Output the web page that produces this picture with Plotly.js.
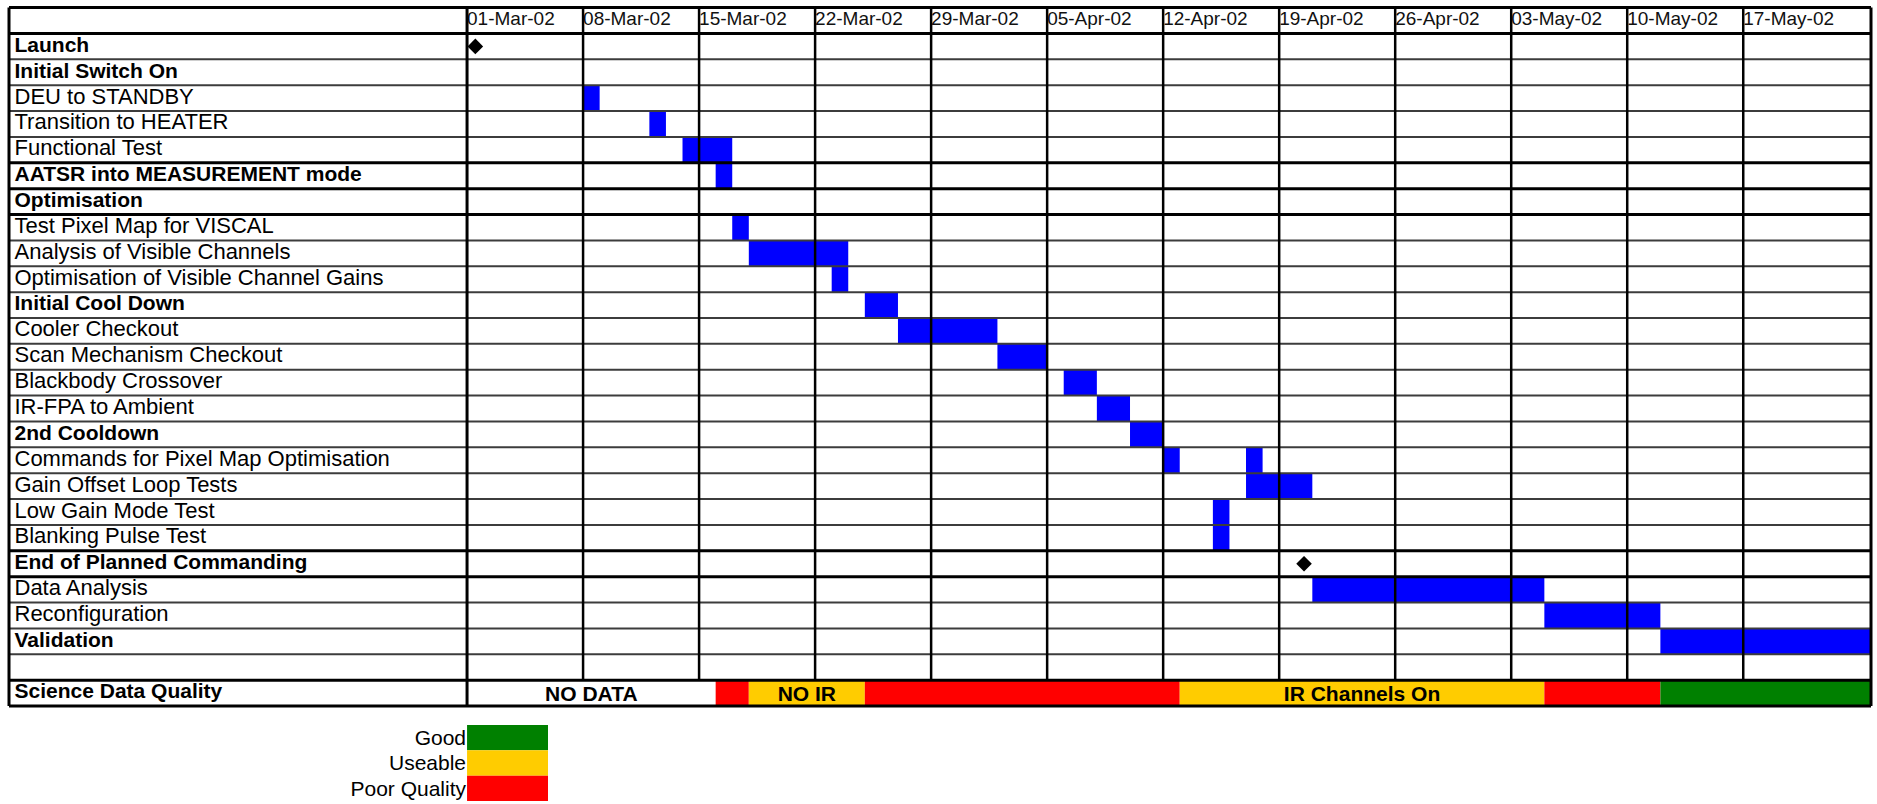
<!DOCTYPE html>
<html><head><meta charset="utf-8">
<script src="https://cdn.plot.ly/plotly-3.0.1.min.js"></script>
<style>html,body{margin:0;padding:0;background:#fff;}#chart{width:1877px;height:804px;}</style>
</head><body><div id="chart"></div>
<script>
// ---------------- data ----------------
const rowLabels = ['Launch','Initial Switch On','DEU to STANDBY','Transition to HEATER','Functional Test',
  'AATSR into MEASUREMENT mode','Optimisation','Test Pixel Map for VISCAL','Analysis of Visible Channels',
  'Optimisation of Visible Channel Gains','Initial Cool Down','Cooler Checkout','Scan Mechanism Checkout',
  'Blackbody Crossover','IR-FPA to Ambient','2nd Cooldown','Commands for Pixel Map Optimisation',
  'Gain Offset Loop Tests','Low Gain Mode Test','Blanking Pulse Test','End of Planned Commanding',
  'Data Analysis','Reconfiguration','Validation','','Science Data Quality'];
const boldLabels = ['Launch','Initial Switch On','AATSR into MEASUREMENT mode','Optimisation','Initial Cool Down',
  '2nd Cooldown','End of Planned Commanding','Validation','Science Data Quality'];

const weekStarts = ['2002-03-01','2002-03-08','2002-03-15','2002-03-22','2002-03-29','2002-04-05',
  '2002-04-12','2002-04-19','2002-04-26','2002-05-03','2002-05-10','2002-05-17'];
const weekLabels = ['01-Mar-02','08-Mar-02','15-Mar-02','22-Mar-02','29-Mar-02','05-Apr-02',
  '12-Apr-02','19-Apr-02','26-Apr-02','03-May-02','10-May-02','17-May-02'];

const barTasks = ['DEU to STANDBY','Transition to HEATER','Functional Test','AATSR into MEASUREMENT mode',
  'Test Pixel Map for VISCAL','Analysis of Visible Channels','Optimisation of Visible Channel Gains',
  'Initial Cool Down','Cooler Checkout','Scan Mechanism Checkout','Blackbody Crossover','IR-FPA to Ambient',
  '2nd Cooldown','Commands for Pixel Map Optimisation','Commands for Pixel Map Optimisation',
  'Gain Offset Loop Tests','Low Gain Mode Test','Blanking Pulse Test','Data Analysis','Reconfiguration','Validation'];
const barStart = ['2002-03-08','2002-03-12','2002-03-14','2002-03-16','2002-03-17','2002-03-18','2002-03-23',
  '2002-03-25','2002-03-27','2002-04-02','2002-04-06','2002-04-08','2002-04-10','2002-04-12','2002-04-17',
  '2002-04-17','2002-04-15','2002-04-15','2002-04-21','2002-05-05','2002-05-12'];
const barEnd = ['2002-03-09','2002-03-13','2002-03-17','2002-03-17','2002-03-18','2002-03-24','2002-03-24',
  '2002-03-27','2002-04-02','2002-04-05','2002-04-08','2002-04-10','2002-04-12','2002-04-13','2002-04-18',
  '2002-04-21','2002-04-16','2002-04-16','2002-05-05','2002-05-12','2002-05-25'];

const milestoneTasks = ['Launch','End of Planned Commanding'];
const milestoneDates = ['2002-03-01 12:00','2002-04-20 12:00'];

const qualityStart = ['2002-03-01','2002-03-16','2002-03-18','2002-03-25','2002-04-13','2002-05-05','2002-05-12'];
const qualityEnd   = ['2002-03-16','2002-03-18','2002-03-25','2002-04-13','2002-05-05','2002-05-12','2002-05-25'];
const qualityLevel = ['No Data','Poor Quality','Useable','Poor Quality','Useable','Poor Quality','Good'];
const qualityText  = ['NO DATA','','NO IR','','IR Channels On','',''];

const legendLabels = ['Good','Useable','Poor Quality'];
const levelColors = {'Good':'#008000','Useable':'#FFCC00','Poor Quality':'#FF0000','No Data':'#FFFFFF'};

// ---------------- build ----------------
const FONT = 'Liberation Sans, Arial, sans-serif';
const rowOf = name => rowLabels.indexOf(name) + 1;
const dur = (a, b) => Date.parse(b) - Date.parse(a);
const LABEL_FRAC = 0.246;
const SCI_ROW = rowLabels.length;          // 26
const LAST_TASK_ROW = SCI_ROW - 1;         // 25

const traces = [];
// row labels (regular and bold)
const regRows = rowLabels.map((l, i) => [l, i + 1]).filter(p => !boldLabels.includes(p[0]));
const boldRows = rowLabels.map((l, i) => [l, i + 1]).filter(p => boldLabels.includes(p[0]));
traces.push({
  type:'scatter', mode:'text', xaxis:'x', yaxis:'y', cliponaxis:false, hoverinfo:'skip',
  x: regRows.map(() => 0.012), y: regRows.map(p => p[1]), text: regRows.map(p => p[0]),
  textposition:'middle right', textfont:{family:FONT, size:22, color:'#000'}
});
traces.push({
  type:'scatter', mode:'text', xaxis:'x', yaxis:'y', cliponaxis:false, hoverinfo:'skip',
  x: boldRows.map(() => 0.012), y: boldRows.map(p => p[1]), text: boldRows.map(p => '<b>' + p[0] + '</b>'),
  textposition:'middle right', textfont:{family:FONT, size:21, color:'#000'}
});
// header week labels
traces.push({
  type:'scatter', mode:'text', xaxis:'x2', yaxis:'y', cliponaxis:false, hoverinfo:'skip',
  x: weekStarts, y: weekStarts.map(() => 0), text: weekLabels,
  textposition:'middle right', textfont:{family:FONT, size:19, color:'#111'}
});
// task bars
traces.push({
  type:'bar', orientation:'h', xaxis:'x2', yaxis:'y', hoverinfo:'skip',
  y: barTasks.map(rowOf), base: barStart, x: barStart.map((s, i) => dur(s, barEnd[i])),
  width: barTasks.map(() => 1), marker:{color:'#0000FF', line:{width:0}}
});
// quality bars
traces.push({
  type:'bar', orientation:'h', xaxis:'x2', yaxis:'y', hoverinfo:'skip',
  y: qualityStart.map(() => SCI_ROW), base: qualityStart, x: qualityStart.map((s, i) => dur(s, qualityEnd[i])),
  width: qualityStart.map(() => 1),
  marker:{color: qualityLevel.map(l => levelColors[l]), line:{width:0}},
  text: qualityText.map(t => t ? '<b>' + t + '</b>' : ''), textposition:'inside', insidetextanchor:'middle',
  constraintext:'none', textangle:0, textfont:{family:FONT, size:21, color:'#000'}
});
// milestones
traces.push({
  type:'scatter', mode:'markers', xaxis:'x2', yaxis:'y', hoverinfo:'skip', cliponaxis:false,
  x: milestoneDates, y: milestoneTasks.map(rowOf),
  marker:{symbol:'diamond', size:12, color:'#000'}
});
// quality legend
traces.push({
  type:'bar', orientation:'h', xaxis:'x3', yaxis:'y2', hoverinfo:'skip',
  y: legendLabels, x: legendLabels.map(() => 1), width: legendLabels.map(() => 1),
  marker:{color: legendLabels.map(l => levelColors[l]), line:{width:0}}
});

// grid lines
const shapes = [];
const thickAfter = [0, 5, 6, 7, 20, 21, 25, 26];
for (let k = 0; k <= SCI_ROW; k++) {
  const thick = thickAfter.includes(k);
  shapes.push({type:'line', xref:'paper', yref:'y', x0:0, x1:1, y0:k + 0.5, y1:k + 0.5,
    line:{color: thick ? '#000' : '#3c3c3c', width: thick ? 3 : 2}});
}
shapes.push({type:'line', xref:'paper', yref:'y', x0:0, x1:1, y0:-0.5, y1:-0.5, line:{color:'#000', width:3}});
weekStarts.slice(1).forEach(d => shapes.push({type:'line', xref:'x2', yref:'y', x0:d, x1:d, y0:-0.5, y1:LAST_TASK_ROW + 0.5,
  line:{color:'#000', width:2.5}}));
[0, LABEL_FRAC, 1].forEach(px => shapes.push({type:'line', xref:'paper', yref:'y', x0:px, x1:px, y0:-0.5, y1:SCI_ROW + 0.5,
  line:{color:'#000', width:3}}));

const H = 804, MT = 5, MB = 3;
const paperH = H - MT - MB;
const tableBottomPx = 708.6;
const legendTopPx = 725;

const layout = {
  width:1877, height:804, margin:{l:9, r:6, t:MT, b:MB, pad:0},
  paper_bgcolor:'#fff', plot_bgcolor:'#fff', showlegend:false, hovermode:false,
  barmode:'overlay', font:{family:FONT, color:'#000'},
  xaxis:{domain:[0, LABEL_FRAC], range:[0, 1], visible:false, anchor:'y', fixedrange:true},
  xaxis2:{domain:[LABEL_FRAC, 1], type:'date', range:['2002-03-01', '2002-05-24 17:00'], visible:false, anchor:'y', fixedrange:true},
  yaxis:{domain:[(H - MB - tableBottomPx) / paperH, 1], range:[SCI_ROW + 0.6, -0.6], visible:false, anchor:'x', fixedrange:true},
  xaxis3:{domain:[LABEL_FRAC, 0.2895], range:[0, 1], visible:false, anchor:'y2', fixedrange:true},
  yaxis2:{domain:[0, (H - MB - legendTopPx) / paperH], type:'category', range:[2.5, -0.5], anchor:'x3',
    tickmode:'array', tickvals: legendLabels, ticktext: legendLabels,
    showgrid:false, zeroline:false, showline:false, ticks:'', tickfont:{family:FONT, size:21, color:'#000'}, fixedrange:true},
  shapes: shapes
};

Plotly.newPlot('chart', traces, layout, {staticPlot:true, displayModeBar:false});
</script>
</body></html>
